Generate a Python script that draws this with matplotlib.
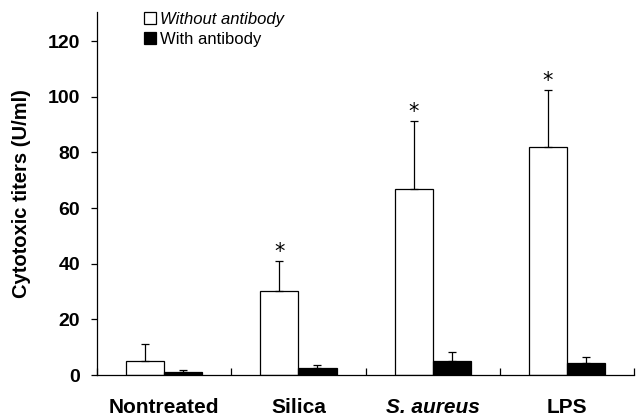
import numpy as np
import matplotlib.pyplot as plt

# data
groups = ['Nontreated', 'Silica', 'S. aureus', 'LPS']
without_ab = [5.0, 30.3, 67.0, 81.8]
without_err = [6.1, 10.7, 24.4, 20.5]
with_ab = [1.0, 2.5, 5.1, 4.3]
with_err = [0.8, 1.2, 3.3, 2.3]
significant = [False, True, True, True]
yticks = [0, 20, 40, 60, 80, 100, 120]

plt.rcParams.update({'font.family': 'Liberation Sans', 'font.weight': 'bold'})

fig = plt.figure(figsize=(6.41, 4.19), dpi=100)
ax = fig.add_axes([0.1513, 0.105, 0.838, 0.866])

x = np.arange(len(groups))
w = 0.284

ax.bar(x - w / 2, without_ab, w, color='white', edgecolor='black', linewidth=0.9,
       label='Without antibody', zorder=2)
ax.bar(x + w / 2, with_ab, w, color='black', edgecolor='black', linewidth=0.9,
       label='With antibody', zorder=2)

# upper error bars only
ax.errorbar(x - w / 2, without_ab, yerr=[np.zeros(len(x)), without_err], fmt='none',
            ecolor='black', elinewidth=0.9, capsize=3, capthick=0.9, zorder=3)
ax.errorbar(x + w / 2, with_ab, yerr=[np.zeros(len(x)), with_err], fmt='none',
            ecolor='black', elinewidth=0.9, capsize=3, capthick=0.9, zorder=3)

for xi, v, e, s in zip(x, without_ab, without_err, significant):
    if s:
        ax.text(xi - w / 2, v + e + 3.2, '*', ha='center', va='center',
                fontsize=15, fontweight='normal', family='DejaVu Sans')

ax.set_xlim(-0.5, len(groups) - 0.5)
ax.set_ylim(0, 130.4)

ax.spines['top'].set_visible(False)
ax.spines['right'].set_visible(False)
for sp in ['left', 'bottom']:
    ax.spines[sp].set_linewidth(0.9)

ax.set_yticks(yticks)
ax.tick_params(axis='y', direction='out', length=4, width=0.9, labelsize=14, pad=8)

# x ticks at group boundaries, pointing inward; labels placed at centres
ax.set_xticks(np.arange(len(groups) + 1) - 0.5)
ax.set_xticklabels([])
ax.tick_params(axis='x', direction='in', length=5, width=0.9)
for xi, g in zip(x, groups):
    style = 'italic' if g == 'S. aureus' else 'normal'
    ax.text(xi, -0.09, g, transform=ax.get_xaxis_transform(), ha='center', va='center',
            fontsize=15, fontweight='bold', fontstyle=style)

ax.set_ylabel('Cytotoxic titers (U/ml)', fontsize=14.5, fontweight='bold', labelpad=12)

leg = ax.legend(loc='upper left', bbox_to_anchor=(0.076, 1.02), frameon=False,
                fontsize=12, handlelength=0.7, handleheight=0.7, handletextpad=0.25,
                labelspacing=0.3, borderaxespad=0)
leg.get_texts()[0].set_fontstyle('italic')
for t in leg.get_texts():
    t.set_fontweight('medium')

fig.savefig('out.png', dpi=100)
